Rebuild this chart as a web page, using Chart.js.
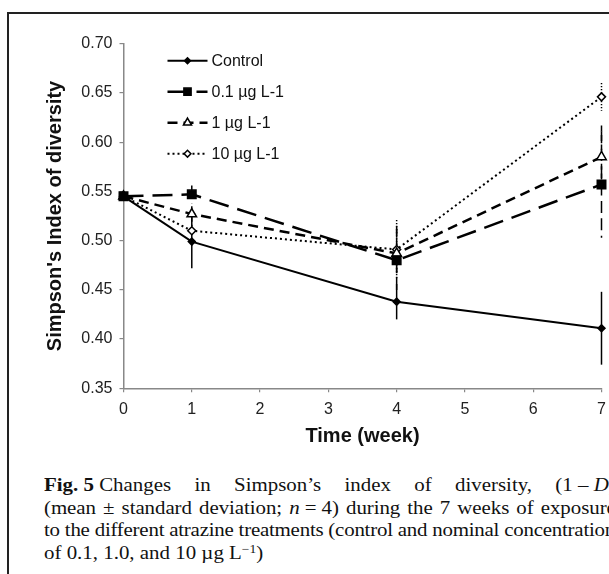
<!DOCTYPE html>
<html>
<head>
<meta charset="utf-8">
<script src="https://cdn.jsdelivr.net/npm/chart.js@4.4.0/dist/chart.umd.min.js"></script>
<style>
  html, body { margin: 0; padding: 0; background: #fff; overflow: hidden; }
  body { width: 609px; height: 574px; position: relative; }
  #frame { position: absolute; left: 7px; top: 12px; width: 700px; height: 700px; border: 2px solid #222; box-sizing: border-box; }
  #wrap { position: absolute; left: 0; top: 0; width: 609px; height: 460px; }
  #caption { position: absolute; left: 44px; top: 474px; width: 506px; transform: scaleX(1.13); transform-origin: 0 0;
             font-family: "Liberation Serif", "DejaVu Serif", serif; font-size: 18.5px; line-height: 22.7px; color: #111; }
  #caption .ln { white-space: nowrap; text-align: justify; text-align-last: justify; }
  #caption .last { text-align: left; text-align-last: left; }
  #caption .tight { letter-spacing: -0.2px; }
  #caption .keep { display: inline-block; white-space: pre; }
  sup { font-size: 12px; line-height: 0; vertical-align: 6px; }
</style>
</head>
<body>
<div id="frame"></div>
<div id="wrap"><canvas id="chart" width="609" height="460"></canvas></div>
<div id="caption">
  <div class="ln"><span class="keep"><b>Fig. 5</b> Changes</span> in Simpson’s index of diversity, <span class="keep">(1 – <i>D</i>)</span></div>
  <div class="ln" style="letter-spacing:-0.05px">(mean ± standard deviation; <span class="keep"><i>n</i> = 4)</span> during the 7 weeks of exposure</div>
  <div class="ln tight">to the different atrazine treatments (control and nominal concentrations</div>
  <div class="ln last">of 0.1, 1.0, and 10 µg L<sup>−1</sup>)</div>
</div>
<script>
// weeks of exposure
const weeks = [0, 1, 4, 7];
const labels = ["Control", "0.1 µg L-1", "1 µg L-1", "10 µg L-1"];

// mean Simpson's index (1 - D)
const control = [0.545, 0.499, 0.438, 0.411];
const low = [0.545, 0.547, 0.480, 0.557];
const mid = [0.545, 0.527, 0.487, 0.585];
const high = [0.545, 0.510, 0.491, 0.646];

// standard deviations
const controlSd = [0, 0.027, 0.018, 0.037];
const lowSd = [0, 0.009, 0.035, 0.054];
const midSd = [0, 0.008, 0.025, 0.032];
const highSd = [0, 0.006, 0.030, 0.014];

const yTicks = [0.35, 0.40, 0.45, 0.50, 0.55, 0.60, 0.65, 0.70];

const means = [control, low, mid, high];
const sds = [controlSd, lowSd, midSd, highSd];

// styles per series
const styles = [
    { dash: [], width: 2, point: "rectRot", radius: 3.5, fill: "#000" },
    { dash: [20, 9], width: 2.5, point: "rect", radius: 6, fill: "#000" },
    { dash: [10, 6], width: 2.5, point: "triangle", radius: 5.5, fill: "#fff" },
    { dash: [2, 3], width: 2, point: "rectRot", radius: 4, fill: "#fff" }
];

const datasets = means.map((vals, i) => ({
    label: labels[i],
    data: vals.map((v, j) => ({ x: weeks[j], y: v })),
    borderColor: "#000",
    borderWidth: styles[i].width,
    borderDash: styles[i].dash,
    pointStyle: styles[i].point,
    pointRadius: styles[i].radius,
    pointBackgroundColor: styles[i].fill,
    pointBorderColor: "#000",
    pointBorderWidth: 1.5,
    tension: 0,
    clip: false
}));

// vertical error bars, no caps, same dash as the series
const errorBars = {
    id: "errorBars",
    beforeDatasetsDraw(chart) {
        const ctx = chart.ctx;
        const xs = chart.scales.x, ys = chart.scales.y;
        ctx.save();
        ctx.strokeStyle = "#000";
        ctx.lineWidth = 1.5;
        means.forEach((vals, i) => {
            ctx.setLineDash(styles[i].dash.length ? styles[i].dash.map(d => d * 0.6) : []);
            vals.forEach((v, j) => {
                if (!sds[i][j]) return;
                const x = xs.getPixelForValue(weeks[j]);
                ctx.beginPath();
                ctx.moveTo(x, ys.getPixelForValue(v + sds[i][j]));
                ctx.lineTo(x, ys.getPixelForValue(v - sds[i][j]));
                ctx.stroke();
            });
        });
        ctx.restore();
    }
};

// legend with line sample + marker inside the plot
const lineLegend = {
    id: "lineLegend",
    afterDraw(chart) {
        const ctx = chart.ctx;
        const area = chart.chartArea;
        const x0 = area.left + 44, x1 = area.left + 84, step = 31;
        ctx.save();
        chart.data.datasets.forEach((ds, i) => {
            const y = area.top + 17 + i * step;
            ctx.strokeStyle = "#000";
            ctx.lineWidth = ds.borderWidth;
            ctx.setLineDash(ds.borderDash);
            ctx.beginPath();
            ctx.moveTo(x0, y);
            ctx.lineTo(x1, y);
            ctx.stroke();
            ctx.setLineDash([]);
            ctx.fillStyle = ds.pointBackgroundColor;
            ctx.lineWidth = ds.pointBorderWidth;
            Chart.helpers.drawPoint(ctx, { pointStyle: ds.pointStyle, radius: ds.pointRadius * 0.85, borderWidth: ds.pointBorderWidth }, (x0 + x1) / 2, y);
            ctx.fillStyle = "#111";
            ctx.font = "16px 'Liberation Sans', Arial, sans-serif";
            ctx.textBaseline = "middle";
            ctx.fillText(ds.label, x1 + 4, y + 1);
        });
        ctx.restore();
    }
};

const tickFont = { family: "'Liberation Sans', Arial, sans-serif", size: 16 };
const titleFont = { family: "'Liberation Sans', Arial, sans-serif", size: 20, weight: "bold" };

new Chart(document.getElementById("chart"), {
    type: "line",
    data: { datasets: datasets },
    options: {
        responsive: false,
        animation: false,
        layout: { padding: { top: 43.7, right: 6.3, left: 0, bottom: 0 } },
        plugins: { legend: { display: false }, tooltip: { enabled: false } },
        scales: {
            x: {
                type: "linear",
                min: 0,
                max: 7,
                ticks: { stepSize: 1, font: tickFont, color: "#222", padding: 8 },
                grid: { drawOnChartArea: false, tickLength: 4, color: "#888", lineWidth: 1.2 },
                border: { color: "#888", width: 1.5 },
                title: { display: true, text: "Time (week)", font: titleFont, color: "#111", padding: { top: 0, bottom: 11.3 } },
                afterFit(s) { s.height = 71.7; s.paddingRight = 4; s.paddingLeft = 0; }
            },
            y: {
                min: yTicks[0],
                max: yTicks[yTicks.length - 1],
                afterBuildTicks(s) { s.ticks = yTicks.map(v => ({ value: v })); },
                ticks: { font: tickFont, color: "#222", padding: 7, callback: v => v.toFixed(2) },
                grid: { drawOnChartArea: false, tickLength: 4, color: "#888", lineWidth: 1.2 },
                border: { color: "#888", width: 1.5 },
                title: { display: true, text: "Simpson's Index of diversity", font: titleFont, color: "#111", padding: { top: 43, bottom: 0 } },
                afterFit(s) { s.width = 123.5; }
            }
        }
    },
    plugins: [errorBars, lineLegend]
});
</script>
</body>
</html>
